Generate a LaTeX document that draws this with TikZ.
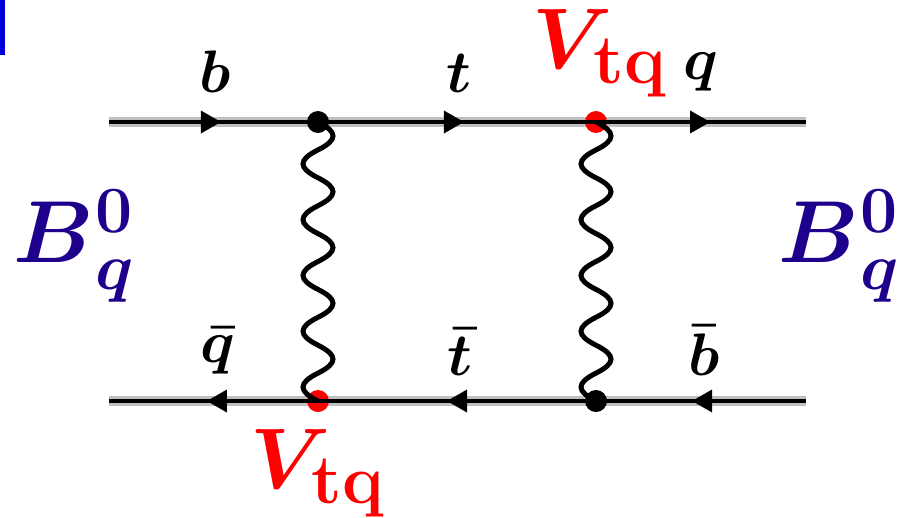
\documentclass[tikz,border=0pt]{standalone}
\usepackage{fix-cm}
\usepackage{amsmath}
\usetikzlibrary{decorations.markings,arrows.meta}
\definecolor{bnavy}{RGB}{30,0,140}
\definecolor{barblue}{RGB}{0,0,215}
\newcommand{\bmlab}[2]{\mbox{\fontsize{#1}{#1}\selectfont\boldmath$#2$}}
\newcommand{\meson}{\mbox{\fontsize{88}{88}\selectfont\boldmath$B$\kern2pt\raisebox{-27pt}{\rlap{\raisebox{57pt}{\fontsize{66}{66}\selectfont$\mathbf{0}$}}\fontsize{66}{66}\selectfont$q$}}}
\newcommand{\vtq}{\mbox{\fontsize{86}{86}\selectfont\boldmath$V$\kern-19pt\raisebox{-15pt}{\fontsize{70}{70}\selectfont$\mathbf{tq}$}}}
\newcommand{\waveR}{.. controls +(20,10) and +(20,-10) .. ++(0,27.9)}
\newcommand{\waveL}{.. controls +(-20,10) and +(-20,-10) .. ++(0,27.9)}
\newcommand{\wavebody}{\waveR \waveL \waveR \waveL \waveR \waveL \waveR \waveL \waveR}
\newcommand{\waveend}{.. controls +(-20,10) and +(-20,-10) ..}
\tikzset{
  x=1pt,y=-1pt,
  halo/.style={line width=10pt,black!25},
  fermion/.style={line width=4pt,black},
  fwd/.style={postaction={decorate},decoration={markings,mark=at position #1 with {\arrow[black,line width=0pt]{Triangle[length=20pt,width=23pt]}}}},
  boson/.style={line width=5pt,black},
  vertexdot/.style={circle,inner sep=0pt,minimum size=22pt},
  lab/.style={inner sep=0pt,anchor=base,black},
  mes/.style={inner sep=0pt,anchor=base west,text=bnavy},
  ckm/.style={inner sep=0pt,anchor=base west,text=red},
  anchorpt/.style={inner sep=0pt,minimum size=0pt}
}
\begin{document}
\begin{tikzpicture}
\useasboundingbox (0,0) rectangle (901,517);
\fill[barblue] (0,0) rectangle (5,55);
\coordinate (tl) at (109,122);
\coordinate (tr) at (806,122);
\coordinate (bl) at (109,401);
\coordinate (br) at (806,401);
\node[anchorpt] (v1) at (318,122) {};
\node[anchorpt] (v2) at (596,122) {};
\node[anchorpt] (v3) at (318,401) {};
\node[anchorpt] (v4) at (596,401) {};
\draw[halo] (tl) -- (tr);
\draw[halo] (bl) -- (br);
\node[vertexdot,fill=red] (rv2) at (v2) {};
\node[vertexdot,fill=red] (rv3) at (v3) {};
\draw[fermion,fwd=0.536] (tl) -- (v1);
\draw[fermion,fwd=0.525] (v1) -- (v2);
\draw[fermion,fwd=0.543] (v2) -- (tr);
\draw[fermion,fwd=0.531] (v3) -- (bl);
\draw[fermion,fwd=0.536] (v4) -- (v3);
\draw[fermion,fwd=0.543] (br) -- (v4);
\node[vertexdot,fill=black] (bv1) at (v1) {};
\node[vertexdot,fill=black] (bv4) at (v4) {};
\draw[boson] (v1.center) \wavebody \waveend (v3.center);
\draw[boson] (v2.center) \wavebody \waveend (v4.center);
\node[lab] (lb) at (215,92) {\bmlab{60}{b}};
\node[lab] (lt) at (459,92) {\bmlab{60}{t}};
\node[lab] (lq) at (701,79) {\bmlab{60}{q}};
\node[lab] (lqb) at (218,362) {\bmlab{60}{\bar q}};
\node[lab] (ltb) at (460,375) {\bmlab{60}{\bar t}};
\node[lab] (lbb) at (704,375) {\bmlab{60}{\bar b}};
\node[mes] (ml) at (13,262) {\meson};
\node[mes] (mr) at (778,262) {\meson};
\node[ckm] (vt) at (532,68) {\vtq};
\node[ckm] (vb) at (250,488) {\vtq};
\end{tikzpicture}
\end{document}
